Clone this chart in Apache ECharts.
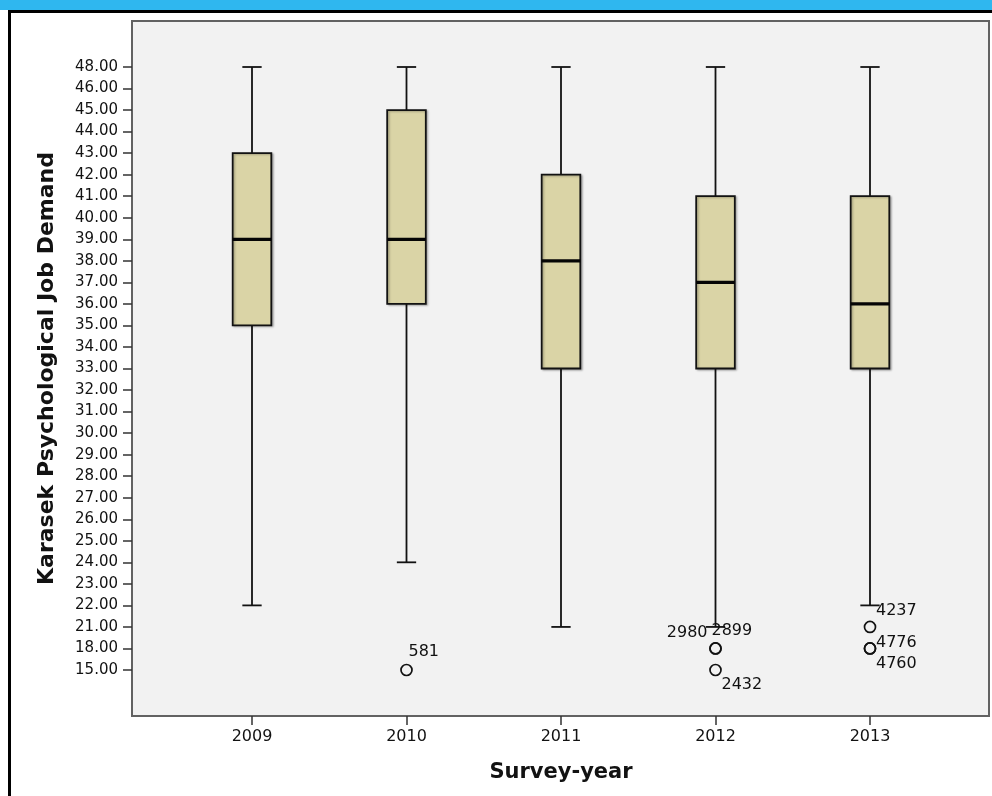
<!DOCTYPE html>
<html>
<head>
<meta charset="utf-8">
<style>
  html, body { margin: 0; padding: 0; background: #ffffff; }
  #chart { width: 992px; height: 796px; }
</style>
<script src="https://cdn.jsdelivr.net/npm/echarts@6/dist/echarts.min.js"></script>
</head>
<body>
<div id="chart"></div>
<script>
// Survey years on the category axis
var years = ['2009', '2010', '2011', '2012', '2013'];

// Score levels shown on the vertical (ordinal) axis, bottom to top
var scoreLevels = [15, 18, 21, 22, 23, 24, 25, 26, 27, 28, 29, 30, 31, 32, 33,
                   34, 35, 36, 37, 38, 39, 40, 41, 42, 43, 44, 45, 46, 48];

// Five-number summaries per year (whisker low, Q1, median, Q3, whisker high)
var whiskerLow  = [22, 24, 21, 21, 22];
var quartile1   = [35, 36, 33, 33, 33];
var medians     = [39, 39, 38, 37, 36];
var quartile3   = [43, 45, 42, 41, 41];
var whiskerHigh = [48, 48, 48, 48, 48];

// Outlying cases: year, score, case number
var outlierYear  = ['2010', '2012', '2012', '2012', '2013', '2013', '2013'];
var outlierScore = [15, 18, 18, 15, 21, 18, 18];
var outlierCase  = ['581', '2980', '2899', '2432', '4237', '4776', '4760'];

// Where each case-number label sits next to its circle
var caseLabelStyle = {
  '581':  { offset: [2, -18],    align: 'left' },
  '2980': { offset: [-8, -16],   align: 'right' },
  '2899': { offset: [-4, -18],   align: 'left' },
  '2432': { offset: [6, 15],     align: 'left' },
  '4237': { offset: [6, -16],    align: 'left' },
  '4776': { offset: [6, -6],     align: 'left' },
  '4760': { offset: [6, 15],     align: 'left' }
};

function level(v) { return scoreLevels.indexOf(v); }

var boxData = years.map(function (y, i) {
  return [i, level(whiskerLow[i]), level(quartile1[i]), level(medians[i]),
          level(quartile3[i]), level(whiskerHigh[i])];
});

var outlierData = outlierCase.map(function (c, i) {
  var st = caseLabelStyle[c];
  return {
    value: [years.indexOf(outlierYear[i]), level(outlierScore[i]), c],
    label: { offset: st.offset, align: st.align }
  };
});

var ink = '#121212';
var font = 'DejaVu Sans';

var chart = echarts.init(document.getElementById('chart'), null, { renderer: 'canvas' });

chart.setOption({
  backgroundColor: '#ffffff',
  animation: false,
  graphic: [
    { type: 'rect', shape: { x: 0, y: 0, width: 992, height: 10 }, style: { fill: '#2fb7ef' }, z: 10 },
    { type: 'rect', shape: { x: 8, y: 10, width: 984, height: 3 }, style: { fill: '#000000' }, z: 10 },
    { type: 'rect', shape: { x: 8, y: 10, width: 3, height: 786 }, style: { fill: '#000000' }, z: 10 }
  ],
  grid: [
    // plot frame
    { left: 132, top: 21, width: 857, height: 695, show: true,
      backgroundColor: '#f2f2f2', borderColor: '#626262', borderWidth: 2 },
    // data area
    { left: 174.75, top: 67, width: 772.5, height: 603, show: false }
  ],
  xAxis: [
    { gridIndex: 0, type: 'value', show: false, min: 0, max: 1 },
    {
      gridIndex: 1, type: 'category', data: years, offset: 46,
      axisLine: { show: false, onZero: false },
      axisTick: { show: true, alignWithLabel: true, length: 9, lineStyle: { color: '#333', width: 1.5 } },
      axisLabel: { margin: 13, fontSize: 16, fontFamily: font, color: ink },
      splitLine: { show: false },
      name: 'Survey-year', nameLocation: 'middle', nameGap: 46,
      nameTextStyle: { fontSize: 21, fontWeight: 'bold', fontFamily: font, color: ink }
    }
  ],
  yAxis: [
    { gridIndex: 0, type: 'value', show: false, min: 0, max: 1 },
    {
      gridIndex: 1, type: 'value', min: 0, max: scoreLevels.length - 1, interval: 1,
      offset: 42.75,
      axisLine: { show: false, onZero: false },
      axisTick: { show: true, length: 9, lineStyle: { color: '#333', width: 1.5 } },
      axisLabel: {
        margin: 14, fontSize: 15, fontFamily: font, color: ink,
        formatter: function (v) { return scoreLevels[v] !== undefined ? scoreLevels[v].toFixed(2) : ''; }
      },
      splitLine: { show: false },
      name: 'Karasek Psychological Job Demand', nameLocation: 'middle', nameGap: 74,
      nameTextStyle: { fontSize: 22, fontWeight: 'bold', fontFamily: font, color: ink }
    }
  ],
  series: [
    {
      type: 'custom',
      xAxisIndex: 1, yAxisIndex: 1,
      data: boxData,
      encode: { x: 0, y: [1, 2, 3, 4, 5] },
      renderItem: function (params, api) {
        var xi = api.value(0);
        var lo = api.coord([xi, api.value(1)]);
        var q1 = api.coord([xi, api.value(2)]);
        var md = api.coord([xi, api.value(3)]);
        var q3 = api.coord([xi, api.value(4)]);
        var hi = api.coord([xi, api.value(5)]);
        var band = api.size([1, 0])[0];
        var bw = band * 0.25;
        var cw = bw / 2;
        var cx = lo[0];
        var lineStyle = { stroke: ink, lineWidth: 1.8 };
        return {
          type: 'group',
          children: [
            { type: 'line', shape: { x1: cx, y1: lo[1], x2: cx, y2: q1[1] }, style: lineStyle },
            { type: 'line', shape: { x1: cx, y1: q3[1], x2: cx, y2: hi[1] }, style: lineStyle },
            { type: 'line', shape: { x1: cx - cw / 2, y1: lo[1], x2: cx + cw / 2, y2: lo[1] }, style: lineStyle },
            { type: 'line', shape: { x1: cx - cw / 2, y1: hi[1], x2: cx + cw / 2, y2: hi[1] }, style: lineStyle },
            { type: 'rect', shape: { x: cx - bw / 2, y: q3[1], width: bw, height: q1[1] - q3[1] },
              style: { fill: '#dad4a6', stroke: ink, lineWidth: 1.8,
                       shadowBlur: 2, shadowOffsetX: 1.5, shadowOffsetY: 1, shadowColor: 'rgba(0,0,0,0.25)' } },
            { type: 'line', shape: { x1: cx - bw / 2, y1: md[1], x2: cx + bw / 2, y2: md[1] },
              style: { stroke: '#050505', lineWidth: 3.2 } }
          ]
        };
      }
    },
    {
      type: 'scatter',
      xAxisIndex: 1, yAxisIndex: 1,
      data: outlierData,
      symbol: 'circle', symbolSize: 11,
      itemStyle: { color: 'rgba(0,0,0,0)', borderColor: ink, borderWidth: 1.7, opacity: 1 },
      label: {
        show: true, position: 'inside', verticalAlign: 'middle',
        fontSize: 16, fontFamily: font, color: '#111111', opacity: 1,
        textBorderWidth: 0,
        formatter: function (p) { return p.value[2]; }
      },
      z: 5
    }
  ]
});
</script>
</body>
</html>
